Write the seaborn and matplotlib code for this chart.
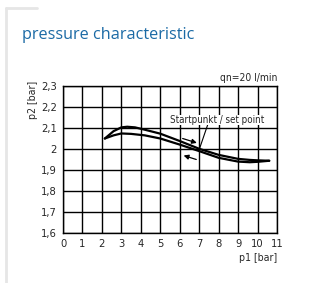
import matplotlib
matplotlib.use('Agg')
import matplotlib.pyplot as plt
import seaborn as sns
from matplotlib.lines import Line2D

# curve data (p1 -> p2)
upper_x = [2.15, 2.6, 3.0, 3.3, 3.7, 4.2, 5.0, 6.0, 7.0, 8.0, 9.0, 9.6, 10.0, 10.6]
upper_y = [2.05, 2.085, 2.103, 2.106, 2.103, 2.092, 2.073, 2.038, 2.001, 1.972, 1.953, 1.948, 1.946, 1.944]
lower_x = [2.15, 2.6, 3.0, 3.5, 4.2, 5.0, 6.0, 7.0, 8.0, 9.0, 9.6, 10.0, 10.6]
lower_y = [2.05, 2.065, 2.074, 2.072, 2.065, 2.050, 2.021, 1.990, 1.958, 1.940, 1.937, 1.939, 1.944]

x_ticks = list(range(0, 12))
y_ticks = [1.6, 1.7, 1.8, 1.9, 2.0, 2.1, 2.2, 2.3]
y_labels = ['1,6', '1,7', '1,8', '1,9', '2', '2,1', '2,2', '2,3']

sns.set_style('white')
plt.rcParams['font.family'] = ['DejaVu Sans']
plt.rcParams['font.stretch'] = 'condensed'

fig = plt.figure(figsize=(3.16, 2.83), dpi=100)
ax = fig.add_axes([0.1994, 0.1767, 0.6772, 0.5194])

sns.lineplot(x=upper_x, y=upper_y, color='black', lw=1.6, sort=False, ax=ax)
sns.lineplot(x=lower_x, y=lower_y, color='black', lw=1.6, sort=False, ax=ax)

ax.set_xlim(0, 11)
ax.set_ylim(1.6, 2.3)
ax.set_xticks(x_ticks)
ax.set_xticklabels([str(t) for t in x_ticks])
ax.set_yticks(y_ticks)
ax.set_yticklabels(y_labels)
ax.grid(True, color='black', lw=1)
ax.set_axisbelow(True)
for s in ax.spines.values():
    s.set_color('black')
    s.set_linewidth(1)
ax.tick_params(direction='out', length=3, width=1, color='black', labelsize=8, pad=1.5)
ax.set_xlabel('')
ax.set_ylabel('')

# annotations
ax.text(11, 2.312, 'qn=20 l/min', ha='right', va='bottom', fontsize=7.4)
ax.text(7.9, 2.138, 'Startpunkt / set point', ha='center', va='center', fontsize=7.0,
        bbox=dict(facecolor='white', edgecolor='none', pad=0.3))
ax.plot([7.45, 7.0], [2.119, 1.997], color='black', lw=0.8)
ax.annotate('', xy=(6.88, 2.029), xytext=(6.15, 2.05),
            arrowprops=dict(arrowstyle='-|>', color='black', lw=0.9, mutation_scale=7,
                            shrinkA=0, shrinkB=0))
ax.annotate('', xy=(6.2, 1.969), xytext=(6.85, 1.950),
            arrowprops=dict(arrowstyle='-|>', color='black', lw=0.9, mutation_scale=7,
                            shrinkA=0, shrinkB=0))

fig.text(0.104, 0.715, 'p2 [bar]', rotation=90, ha='center', va='top', fontsize=7.6)
fig.text(0.877, 0.09, 'p1 [bar]', ha='right', va='center', fontsize=7.6)

fig.text(22 / 316, 1 - 35 / 283, 'pressure characteristic', color='#1b6aa5',
         fontsize=11.7, va='center', ha='left', family=['Open Sans', 'DejaVu Sans'],
         stretch='normal')

# light frame at left/top
fig.add_artist(Line2D([6 / 316, 6 / 316], [0, 1 - 8 / 283], color='#e6e6e6', lw=2))
fig.add_artist(Line2D([6 / 316, 37 / 316], [1 - 8 / 283, 1 - 8 / 283], color='#e6e6e6', lw=2))

fig.savefig('out.png', dpi=100)
